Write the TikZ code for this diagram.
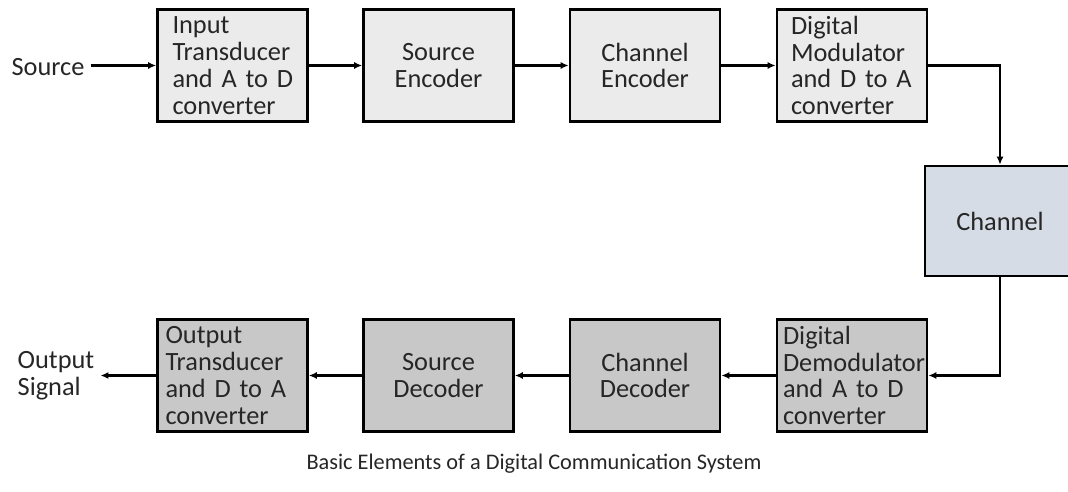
\documentclass[tikz,border=0pt]{standalone}
\usepackage{fontspec}
\setmainfont{Carlito}
\usetikzlibrary{arrows.meta,positioning}

\definecolor{txfill}{HTML}{EBEBEB}
\definecolor{chfill}{HTML}{D6DCE5}
\definecolor{rxfill}{HTML}{C8C8C8}
\definecolor{ink}{HTML}{262626}

\begin{document}
\begin{tikzpicture}[x=0.02cm, y=-0.02cm,
    every node/.style={font=\fontsize{15pt}{15.3pt}\selectfont, text=ink},
    blk/.style={draw=black, line width=1.6pt, minimum height=2.24cm, inner ysep=0pt},
    lblk/.style={blk, align=left, inner xsep=#1, text width=3cm-2*#1},
    cblk/.style={blk, align=center, inner xsep=0.2cm, text width=2.6cm},
    flow/.style={line width=1.5pt, -{Latex[length=4.5pt, width=4pt]}}]
  \useasboundingbox (0,0) rectangle (1068,492);

  % Transmitter side (top row)
  \node (src) at (48,67) {Source};
  \node[lblk=0.3cm, fill=txfill] (itx) at (232.5,65.5) {Input\\Transducer\\and~A~to~D\\converter};
  \node[cblk, fill=txfill] (senc) at (438.5,65.5) {Source\\Encoder};
  \node[cblk, fill=txfill] (cenc) at (645,65.5) {Channel\\Encoder};
  \node[lblk=0.28cm, fill=txfill] (dmod) at (852,65.5) {Digital\\Modulator\\and~D~to~A\\converter};

  % Channel
  \node[blk, fill=chfill, minimum width=3cm, minimum height=2.2cm] (chan) at (1000,221) {Channel};

  % Receiver side (bottom row)
  \node[lblk=0.12cm, fill=rxfill] (demod) at (852,375.5) {Digital\\Demodulator\\and~A~to~D\\converter};
  \node[cblk, fill=rxfill] (cdec) at (645,375.5) {Channel\\Decoder};
  \node[cblk, fill=rxfill] (sdec) at (438.5,375.5) {Source\\Decoder};
  \node[lblk=0.16cm, fill=rxfill] (otx) at (232.5,375.5) {Output\\Transducer\\and~D~to~A\\converter};
  \node[align=left] (out) at (56,375.5) {Output\\Signal};

  % Connectors
  \draw[flow] (src.east |- itx.west) -- (itx.west);
  \draw[flow] (itx) -- (senc);
  \draw[flow] (senc) -- (cenc);
  \draw[flow] (cenc) -- (dmod);
  \draw[flow] (dmod.east) -| (chan.north);
  \draw[flow] (chan.south) |- (demod.east);
  \draw[flow] (demod) -- (cdec);
  \draw[flow] (cdec) -- (sdec);
  \draw[flow] (sdec) -- (otx);
  \draw[flow] (otx) -- (out);

  % Caption
  \node[font=\fontsize{12.7pt}{15pt}\selectfont] (cap) at (534,464) {Basic Elements of a Digital Communication System};
\end{tikzpicture}
\end{document}
